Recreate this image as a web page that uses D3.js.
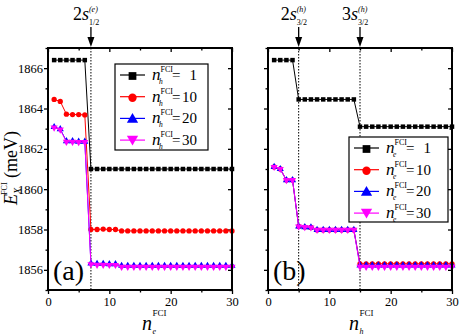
<!DOCTYPE html>
<html>
<head>
<meta charset="utf-8">
<script src="https://cdn.jsdelivr.net/npm/d3@7"></script>
<style>
body { margin: 0; background: #fff; }
</style>
</head>
<body>
<div id="chart"></div>
<script>
// x values (n^FCI) shared by both panels
var nFci = [1,2,3,4,5,6,7,8,9,10,11,12,13,14,15,16,17,18,19,20,21,22,23,24,25,26,27,28,29,30];

// panel (a): E_X vs n_e, one series per n_h
var aH1  = [1866.4,1866.4,1866.4,1866.4,1866.4,1866.4,1861.0,1861.0,1861.0,1861.0,1861.0,1861.0,1861.0,1861.0,1861.0,1861.0,1861.0,1861.0,1861.0,1861.0,1861.0,1861.0,1861.0,1861.0,1861.0,1861.0,1861.0,1861.0,1861.0,1861.0];
var aH10 = [1864.45,1864.35,1863.72,1863.7,1863.7,1863.68,1858.0,1858.0,1858.02,1858.0,1858.0,1857.93,1857.93,1857.93,1857.93,1857.93,1857.93,1857.93,1857.93,1857.93,1857.93,1857.93,1857.93,1857.93,1857.93,1857.93,1857.93,1857.93,1857.93,1857.93];
var aH20 = [1863.08,1862.98,1862.38,1862.38,1862.36,1862.36,1856.32,1856.3,1856.3,1856.28,1856.28,1856.2,1856.2,1856.2,1856.2,1856.2,1856.2,1856.2,1856.2,1856.2,1856.2,1856.2,1856.2,1856.2,1856.2,1856.2,1856.2,1856.2,1856.2,1856.2];
var aH30 = [1863.05,1862.95,1862.35,1862.35,1862.33,1862.33,1856.28,1856.25,1856.25,1856.24,1856.24,1856.15,1856.15,1856.15,1856.15,1856.15,1856.15,1856.15,1856.15,1856.15,1856.15,1856.15,1856.15,1856.15,1856.15,1856.15,1856.15,1856.15,1856.15,1856.15];

// panel (b): E_X vs n_h, one series per n_e
var bE1  = [1866.4,1866.4,1866.4,1866.4,1864.45,1864.45,1864.45,1864.45,1864.45,1864.45,1864.45,1864.45,1864.45,1864.45,1863.1,1863.1,1863.1,1863.1,1863.1,1863.1,1863.1,1863.1,1863.1,1863.1,1863.1,1863.1,1863.1,1863.1,1863.1,1863.1];
var bE10 = [1861.1,1861.0,1860.45,1860.45,1858.15,1858.12,1858.1,1857.98,1857.98,1857.98,1857.98,1857.98,1857.98,1857.98,1856.3,1856.3,1856.3,1856.3,1856.3,1856.3,1856.3,1856.3,1856.3,1856.3,1856.3,1856.3,1856.3,1856.3,1856.3,1856.3];
var bE20 = [1861.1,1861.0,1860.45,1860.45,1858.15,1858.12,1858.1,1857.98,1857.98,1857.98,1857.98,1857.98,1857.98,1857.98,1856.22,1856.22,1856.22,1856.22,1856.22,1856.22,1856.22,1856.22,1856.22,1856.22,1856.22,1856.22,1856.22,1856.22,1856.22,1856.22];
var bE30 = [1861.1,1861.0,1860.45,1860.45,1858.15,1858.12,1858.1,1857.98,1857.98,1857.98,1857.98,1857.98,1857.98,1857.98,1856.15,1856.15,1856.15,1856.15,1856.15,1856.15,1856.15,1856.15,1856.15,1856.15,1856.15,1856.15,1856.15,1856.15,1856.15,1856.15];

var legendVals = ["1", "10", "20", "30"];
var xMajor = [0, 10, 20, 30], xMinor = [5, 15, 25];
var yMajor = [1856, 1858, 1860, 1862, 1864, 1866], yMinor = [1855, 1857, 1859, 1861, 1863, 1865, 1867];
var xDomain = [0, 30], yDomain = [1855, 1867];

var styles = [
  {color: "#000000", sym: d3.symbolSquare, rot: 0, s: 20, ls: 60},
  {color: "#ff0000", sym: d3.symbolCircle, rot: 0, s: 22, ls: 55},
  {color: "#0000ff", sym: d3.symbolTriangle, rot: 0, s: 22, ls: 55},
  {color: "#ff00ff", sym: d3.symbolTriangle, rot: 180, s: 22, ls: 55}
];

var W = 459, H = 336;
var top0 = 48, bot0 = 290;

var svg = d3.select("#chart").append("svg")
    .attr("width", W)
    .attr("height", H);

function drawPanel(p) {
  var x = d3.scaleLinear().domain(xDomain).range([p.left, p.left + 184]);
  var y = d3.scaleLinear().domain(yDomain).range([bot0, top0]);
  var g = svg.append("g");

  // axes: left/bottom ticks out, top/right ticks in
  var ax = [
    {a: d3.axisBottom(x).tickValues(xMajor).tickSize(4).tickPadding(3), t: "translate(0," + bot0 + ")"},
    {a: d3.axisBottom(x).tickValues(xMinor).tickSize(2.5).tickFormat(""), t: "translate(0," + bot0 + ")"},
    {a: d3.axisBottom(x).tickValues(xMajor).tickSize(4).tickFormat(""), t: "translate(0," + top0 + ")"},
    {a: d3.axisBottom(x).tickValues(xMinor).tickSize(2.5).tickFormat(""), t: "translate(0," + top0 + ")"},
    {a: d3.axisLeft(y).tickValues(yMajor).tickSize(4).tickPadding(1).tickFormat(p.yLabels ? d3.format("d") : ""), t: "translate(" + p.left + ",0)"},
    {a: d3.axisLeft(y).tickValues(yMinor).tickSize(2.5).tickFormat(""), t: "translate(" + p.left + ",0)"},
    {a: d3.axisLeft(y).tickValues(yMajor).tickSize(4).tickFormat(""), t: "translate(" + (p.left + 184) + ",0)"},
    {a: d3.axisLeft(y).tickValues(yMinor).tickSize(2.5).tickFormat(""), t: "translate(" + (p.left + 184) + ",0)"}
  ];
  ax.forEach(function(d) {
    var ag = g.append("g").attr("transform", d.t).call(d.a);
    ag.select(".domain").remove();
    ag.selectAll("line").attr("stroke", "#000").attr("stroke-width", 1.3);
    ag.selectAll("text").attr("font-size", 12.5).attr("fill", "#000");
  });

  // dotted markers for the shells
  p.vlines.forEach(function(v) {
    g.append("line")
      .attr("x1", x(v)).attr("x2", x(v))
      .attr("y1", top0).attr("y2", bot0)
      .attr("stroke", "#000").attr("stroke-width", 1)
      .attr("stroke-dasharray", "1.5,1.5");
    g.append("line")
      .attr("x1", x(v)).attr("x2", x(v))
      .attr("y1", 27).attr("y2", 40)
      .attr("stroke", "#000").attr("stroke-width", 1.3);
    g.append("path")
      .attr("d", "M" + (x(v) - 3.5) + ",37L" + (x(v) + 3.5) + ",37L" + x(v) + ",47Z")
      .attr("fill", "#000");
  });

  // series
  var line = d3.line()
    .x(function(d, i) { return x(nFci[i]); })
    .y(function(d) { return y(d); });
  p.series.forEach(function(s, k) {
    var st = styles[k];
    g.append("path")
      .datum(s)
      .attr("d", line)
      .attr("fill", "none")
      .attr("stroke", st.color)
      .attr("stroke-width", 1);
    g.selectAll(".m" + k)
      .data(s)
      .enter().append("path")
      .attr("d", d3.symbol().type(st.sym).size(st.s))
      .attr("transform", function(d, i) { return "translate(" + x(nFci[i]) + "," + y(d) + ") rotate(" + st.rot + ")"; })
      .attr("fill", st.color);
  });

  // frame
  g.append("rect")
    .attr("x", p.left).attr("y", top0)
    .attr("width", 184).attr("height", bot0 - top0)
    .attr("fill", "none").attr("stroke", "#000").attr("stroke-width", 2);

  // legend
  var L = p.legend;
  g.append("rect")
    .attr("x", L.x).attr("y", L.y).attr("width", L.w).attr("height", L.h)
    .attr("fill", "#fff").attr("stroke", "#000").attr("stroke-width", 1.2);
  legendVals.forEach(function(v, k) {
    var st = styles[k], cy = L.y + 11 + k * L.step, lx = L.x + 5;
    g.append("line")
      .attr("x1", lx).attr("x2", lx + 25).attr("y1", cy).attr("y2", cy)
      .attr("stroke", st.color).attr("stroke-width", 1.2);
    g.append("path")
      .attr("d", d3.symbol().type(st.sym).size(st.ls))
      .attr("transform", "translate(" + (lx + 12.5) + "," + (cy + (st.rot ? -1 : 1)) + ") rotate(" + st.rot + ")")
      .attr("fill", st.color);
    var tx = lx + 32;
    g.append("text").attr("x", tx).attr("y", cy + 5)
      .attr("font-size", 17).attr("font-style", "italic").text("n");
    g.append("text").attr("x", tx + 8.5).attr("y", cy - 3)
      .attr("font-size", 8).text("FCI");
    g.append("text").attr("x", tx + 7).attr("y", cy + 9)
      .attr("font-size", 7.5).attr("font-style", "italic").text(p.legSub);
    g.append("text").attr("x", tx + 20).attr("y", cy + 5)
      .attr("font-size", 15).text("=");
    g.append("text").attr("x", tx + 45).attr("y", cy + 5)
      .attr("font-size", 15).attr("text-anchor", "end").text(v);
  });

  // panel tag
  g.append("text")
    .attr("x", p.left + 5).attr("y", 280)
    .attr("font-size", 28).text(p.tag);

  // x title
  var xt = p.left + p.xTitleOff;
  g.append("text").attr("x", xt).attr("y", 330)
    .attr("font-size", 20).attr("font-style", "italic").text("n");
  g.append("text").attr("x", xt + 10.5).attr("y", 316)
    .attr("font-size", 9).text("FCI");
  g.append("text").attr("x", xt + 10.5).attr("y", 334)
    .attr("font-size", 8).attr("font-style", "italic").text(p.xSub);

  // shell labels
  p.shells.forEach(function(sh) {
    var sx = x(sh.at) - 2;
    var t = g.append("text").attr("x", sx).attr("y", 20)
      .attr("font-size", 18).attr("text-anchor", "end");
    t.append("tspan").text(sh.n);
    t.append("tspan").attr("font-style", "italic").text("s");
    g.append("text").attr("x", sx).attr("y", 12)
      .attr("font-size", 8).attr("font-style", "italic").text(sh.sup);
    g.append("text").attr("x", sx).attr("y", 25)
      .attr("font-size", 8).text(sh.sub);
  });
}

drawPanel({
  left: 48, yLabels: true, tag: "(a)",
  series: [aH1, aH10, aH20, aH30],
  vlines: [7],
  shells: [{at: 7, n: "2", sup: "(e)", sub: "1/2"}],
  legend: {x: 115, y: 64, w: 93, h: 86, step: 21.7},
  legSub: "h",
  xTitleOff: 94, xSub: "e"
});

drawPanel({
  left: 268, yLabels: false, tag: "(b)",
  series: [bE1, bE10, bE20, bE30],
  vlines: [5, 15],
  shells: [{at: 5, n: "2", sup: "(h)", sub: "3/2"}, {at: 15, n: "3", sup: "(h)", sub: "3/2"}],
  legend: {x: 349, y: 137, w: 99, h: 85, step: 21.7},
  legSub: "e",
  xTitleOff: 81, xSub: "h"
});

// y title, rotated
var yt = svg.append("text")
  .attr("transform", "translate(17,168) rotate(-90)")
  .attr("text-anchor", "middle")
  .attr("font-size", 18);
yt.append("tspan").attr("font-style", "italic").text("E");
yt.append("tspan").attr("font-style", "italic").attr("font-size", 10).attr("dy", 4).text("X");
yt.append("tspan").attr("font-size", 8).attr("dx", -7).attr("dy", -14).text("FCI");
yt.append("tspan").attr("dy", 10).text(" (meV)");

// Times-like face on every text
svg.selectAll("text").attr("font-family", "Liberation Serif");
svg.selectAll("g").attr("font-family", "Liberation Serif");
</script>
</body>
</html>
